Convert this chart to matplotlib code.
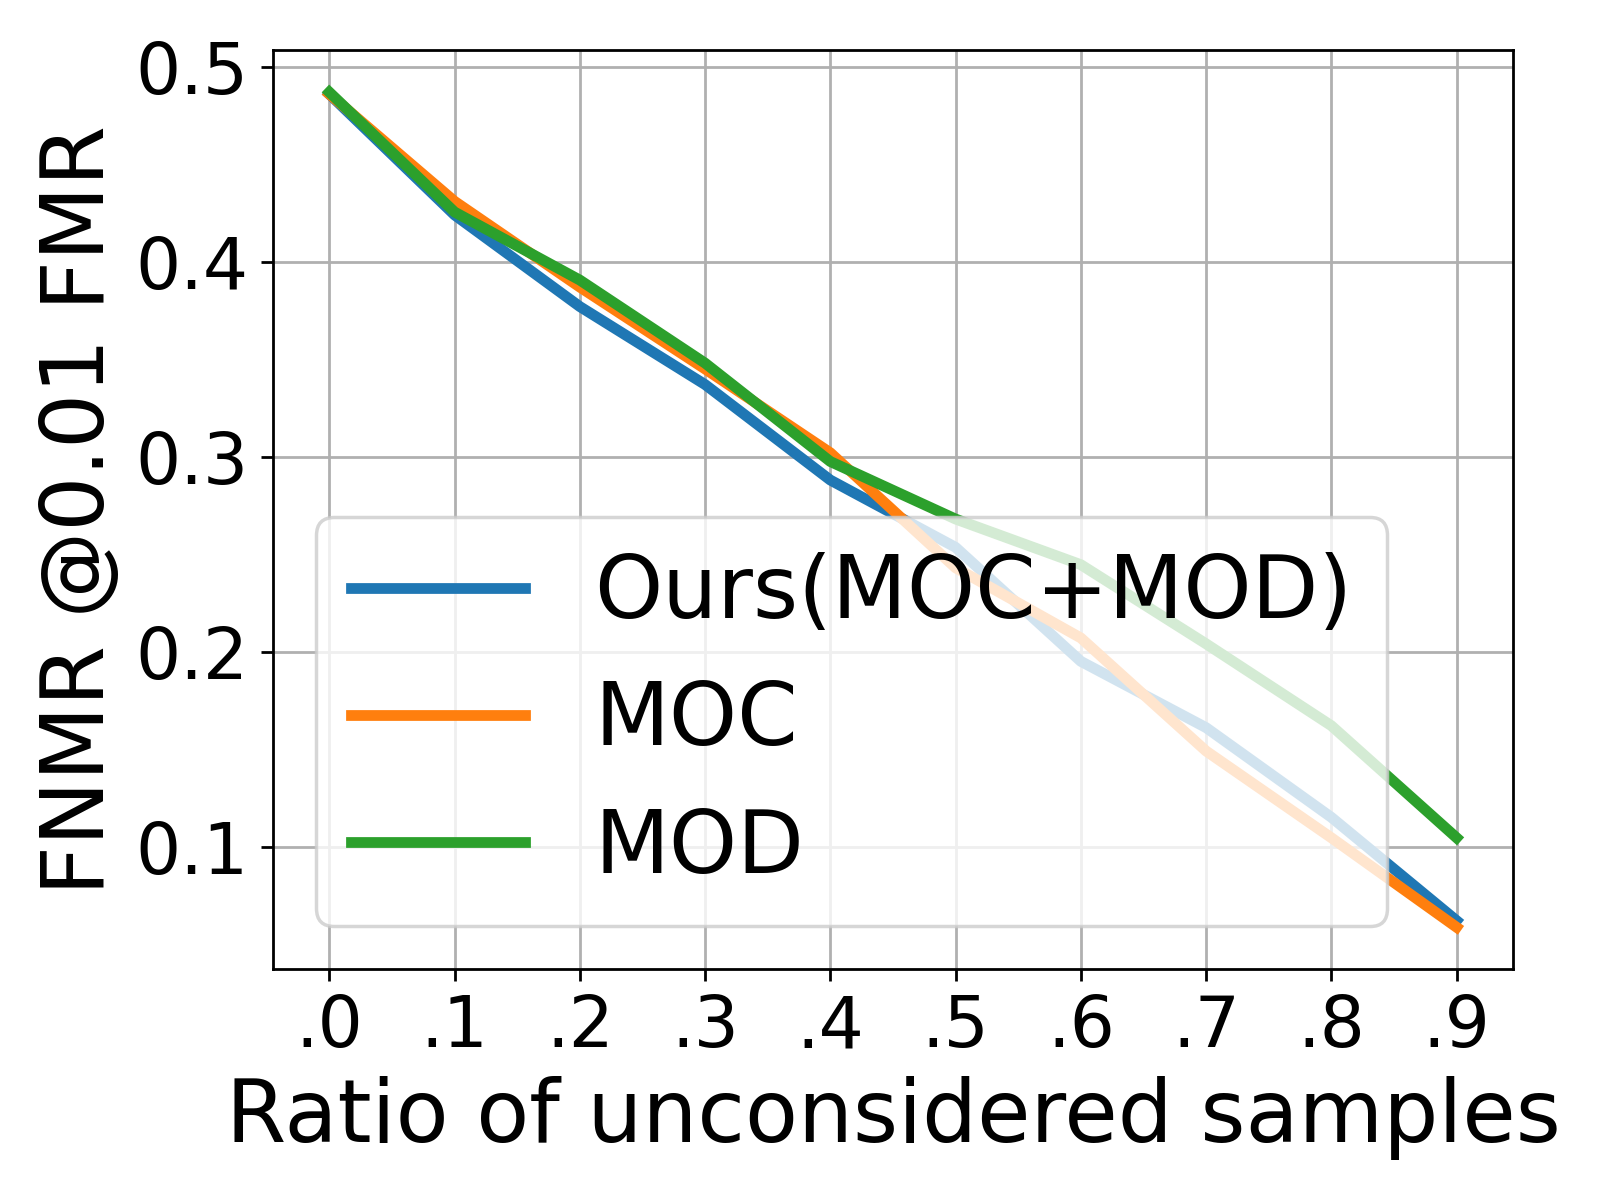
import numpy as np
import matplotlib
matplotlib.use("Agg")
import matplotlib.pyplot as plt

ratios = [0.0, 0.1, 0.2, 0.3, 0.4, 0.5, 0.6, 0.7, 0.8, 0.9]
tick_labels = [".0", ".1", ".2", ".3", ".4", ".5", ".6", ".7", ".8", ".9"]

ours = [0.486, 0.424, 0.377, 0.337, 0.288, 0.2535, 0.195, 0.161, 0.115, 0.062]
moc = [0.486, 0.431, 0.387, 0.345, 0.302, 0.243, 0.207, 0.149, 0.1045, 0.0586]
mod = [0.487, 0.4255, 0.3906, 0.348, 0.2975, 0.268, 0.2446, 0.204, 0.162, 0.1045]

labels = ["Ours(MOC+MOD)", "MOC", "MOD"]

fig, ax = plt.subplots(figsize=(6.4, 4.8), dpi=250)
ax.plot(ratios, ours, color="#1f77b4", linewidth=3.1, label=labels[0])
ax.plot(ratios, moc, color="#ff7f0e", linewidth=3.1, label=labels[1])
ax.plot(ratios, mod, color="#2ca02c", linewidth=3.1, label=labels[2])

ax.set_xticks(ratios)
ax.set_xticklabels(tick_labels)
ax.set_yticks([0.1, 0.2, 0.3, 0.4, 0.5])
ax.tick_params(labelsize=20.5)
ax.grid(True)
ax.set_xlabel("Ratio of unconsidered samples", fontsize=25)
ax.set_ylabel("FNMR @0.01 FMR", fontsize=25)
ax.legend(loc="lower left", fontsize=25)

fig.subplots_adjust(left=0.1706, right=0.9456, top=0.958, bottom=0.1925)
fig.savefig("out.png", dpi=250)
